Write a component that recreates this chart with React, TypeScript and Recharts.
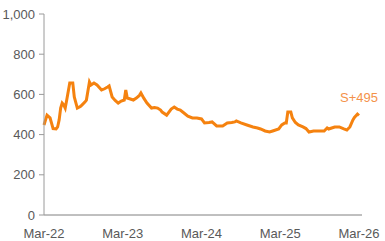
import React from 'react';
import { LineChart, Line, XAxis, YAxis, LabelList } from 'recharts';

// week offset from Mar-22, spread index value
const weeks = [
  0, 2, 4, 6, 8, 9, 10, 11, 12, 13, 14, 15, 17, 19, 20, 22, 24, 25, 27, 28,
  30, 31, 33, 35, 38, 40, 42, 43, 45, 47, 49, 51, 53, 54, 55, 57, 59, 61, 63, 64,
  66, 68, 71, 73, 75, 77, 78, 81, 84, 86, 88, 90, 92, 95, 98, 101, 104, 106, 109, 111,
  114, 118, 121, 124, 126, 127, 130, 134, 138, 141, 143, 146, 149, 151, 155, 157, 159, 160, 161, 163,
  164, 166, 168, 171, 173, 175, 178, 180, 183, 185, 187, 188, 190, 192, 195, 198, 200, 202, 204, 205,
  207, 208,
];
const spread = [
  448, 497, 483, 430, 428, 438, 473, 532, 557, 548, 532, 572, 657, 657, 587, 532, 540, 547, 562, 572,
  662, 647, 657, 647, 622, 628, 637, 642, 587, 570, 557, 567, 572, 622, 582, 577, 572, 582, 595, 607,
  580, 557, 532, 535, 532, 522, 512, 497, 527, 537, 527, 522, 510, 492, 483, 483, 478, 458, 460, 463,
  443, 443, 458, 460, 463, 468, 458, 448, 438, 433, 428, 418, 413, 418, 428, 448, 458, 458, 512, 512,
  483, 460, 448, 438, 430, 413, 418, 418, 418, 418, 433, 428, 433, 438, 438, 428, 423, 438, 473, 485,
  502, 495,
];
const yTicks = [0, 200, 400, 600, 800, 1000];
const xTicks = [0, 52, 104, 156, 208];
const xLabels = ['Mar-22', 'Mar-23', 'Mar-24', 'Mar-25', 'Mar-26'];
const lastLabel = 'S+495';

const data = weeks.map((w, i) => ({ week: w, value: spread[i] }));

const font = { fontFamily: 'Liberation Sans, Arial, sans-serif', fontSize: 13, fill: '#595959' };

const renderLast = (props: any) => {
  const { x, y, index } = props;
  if (index !== data.length - 1) return null;
  return (
    <text x={x} y={y - 14} textAnchor="middle" fontFamily="Liberation Sans, Arial, sans-serif" fontSize={13} fill="#F4924A">
      {lastLabel}
    </text>
  );
};

export default function App() {
  return (
    <div style={{ position: 'absolute', left: 0, top: 0, background: '#fff' }}>
      <LineChart width={385} height={241} data={data} margin={{ top: 14, right: 23, left: 0, bottom: 0 }}>
        <XAxis
          dataKey="week"
          type="number"
          domain={[0, 210]}
          ticks={xTicks}
          tickFormatter={(v: number) => xLabels[xTicks.indexOf(v)]}
          tickLine={false}
          tickMargin={8}
          height={26}
          stroke="#808080"
          tick={font}
          interval={0}
        />
        <YAxis
          type="number"
          domain={[0, 1000]}
          ticks={yTicks}
          tickFormatter={(v: number) => v.toLocaleString('en-US')}
          tickSize={5}
          tickMargin={4}
          width={44}
          stroke="#9a9a9a"
          tick={font}
          interval={0}
        />
        <Line
          type="linear"
          dataKey="value"
          stroke="#F5820F"
          strokeWidth={3}
          dot={false}
          isAnimationActive={false}
        >
          <LabelList dataKey="value" content={renderLast} />
        </Line>
      </LineChart>
    </div>
  );
}
